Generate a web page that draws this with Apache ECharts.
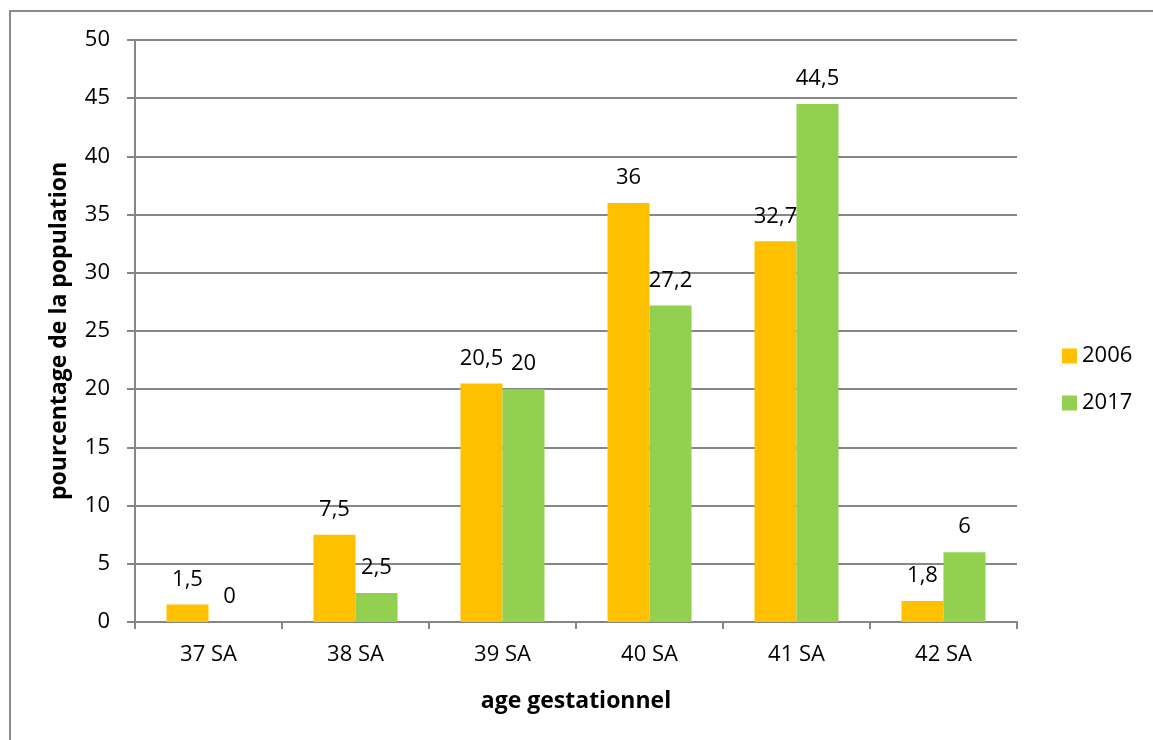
<!DOCTYPE html>
<html><head><meta charset="utf-8">
<script src="https://cdn.jsdelivr.net/npm/echarts@6/dist/echarts.min.js"></script>
<style>html,body{margin:0;padding:0;background:#fff}#c{width:1153px;height:740px}
#frame{position:absolute;left:9px;top:10px;width:1200px;height:800px;border:2px solid #8c8c8c;box-sizing:border-box;pointer-events:none}</style>
</head><body><div id="c"></div><div id="frame"></div>
<script>
const categories = ['37 SA','38 SA','39 SA','40 SA','41 SA','42 SA'];
const values2006 = [1.5, 7.5, 20.5, 36, 32.7, 1.8];
const values2017 = [0, 2.5, 20, 27.2, 44.5, 6];
const seriesNames = ['2006','2017'];
const yTicks = {min:0, max:50, interval:5};
const font = '"Open Sans", "Noto Sans", sans-serif';
const fs = 22;
const fmt = p => String(p.value).replace('.', ',');
const chart = echarts.init(document.getElementById('c'));
const lbl = {show:true, position:'top', distance:14, color:'#000', fontSize:fs, fontFamily:font, formatter:fmt};
chart.setOption({
  animation:false,
  grid:{left:135, right:136, top:40, bottom:118},
  legend:{orient:'vertical', left:1057, top:340, itemWidth:15, itemHeight:15, itemGap:25,
    textStyle:{fontSize:fs, fontFamily:font, color:'#000'}, icon:'rect', data:seriesNames},
  xAxis:{type:'category', data:categories,
    axisLine:{lineStyle:{color:'#868686', width:2}},
    axisTick:{show:true, length:7, lineStyle:{color:'#868686', width:2}},
    axisLabel:{fontSize:fs, fontFamily:font, color:'#000', margin:22},
    name:'age gestationnel', nameLocation:'middle', nameGap:68,
    nameTextStyle:{fontSize:23, fontWeight:'bold', fontFamily:font, color:'#000'}},
  yAxis:{type:'value', min:yTicks.min, max:yTicks.max, interval:yTicks.interval,
    axisLine:{show:true, lineStyle:{color:'#868686', width:2}},
    axisTick:{show:true, length:8, lineStyle:{color:'#868686', width:2}},
    splitLine:{lineStyle:{color:'#868686', width:2}},
    axisLabel:{fontSize:fs, fontFamily:font, color:'#000', margin:25},
    name:'pourcentage de la population', nameLocation:'middle', nameGap:64,
    nameTextStyle:{fontSize:23, fontWeight:'bold', fontFamily:font, color:'#000'}},
  series:[
    {name:seriesNames[0], type:'bar', data:values2006, barWidth:42, barGap:'0%', itemStyle:{color:'#FFC000'}, label:lbl},
    {name:seriesNames[1], type:'bar', data:values2017, barWidth:42, barGap:'0%', itemStyle:{color:'#92D050'}, label:lbl}
  ]
});
</script></body></html>
